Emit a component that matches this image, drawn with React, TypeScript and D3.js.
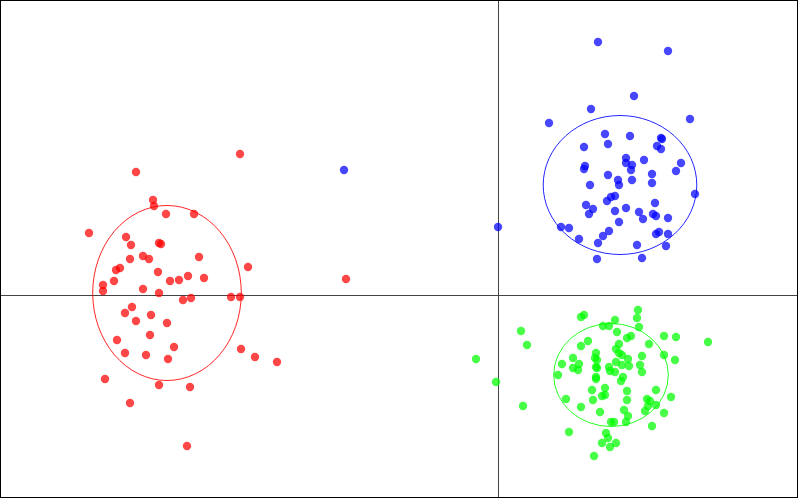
import React from "react";
import * as d3 from "d3";

const W = 798;
const H = 498;

type P = [number, number];

const groupNames = ["A", "B", "C"];
const groupColors = ["#ff0000", "#0000ff", "#00ff00"];

const redPoints: P[] = [
  [-2.58, 1.41], [-3.62, 1.23], [-3.45, 0.95], [-3.44, 0.89], [-3.32, 0.81], [-3.04, 0.81],
  [-4.09, 0.62], [-3.72, 0.58], [-3.67, 0.5], [-3.39, 0.52], [-3.37, 0.51], [-2.99, 0.38],
  [-3.68, 0.36], [-3.55, 0.39], [-3.49, 0.36], [-2.5, 0.28], [-3.82, 0.25], [-3.78, 0.27],
  [-3.4, 0.23], [-3.28, 0.14], [-3.19, 0.15], [-3.1, 0.19], [-2.94, 0.17], [-3.84, 0.14],
  [-3.95, 0.1], [-3.95, 0.04], [-3.55, 0.06], [-3.39, 0.02], [-3.15, -0.05], [-3.07, -0.03],
  [-2.67, -0.02], [-2.58, -0.02], [-3.66, -0.12], [-3.73, -0.18], [-3.47, -0.2], [-3.62, -0.26],
  [-3.31, -0.28], [-3.81, -0.45], [-3.48, -0.4], [-3.24, -0.52], [-3.73, -0.58], [-3.52, -0.6],
  [-3.3, -0.64], [-2.57, -0.54], [-2.43, -0.62], [-2.21, -0.67], [-3.93, -0.84], [-3.39, -0.9],
  [-3.08, -0.92], [-3.68, -1.08], [-3.11, -1.51], [-1.52, 0.16],
];

const bluePoints: P[] = [
  [1.0, 2.53], [1.7, 2.44], [1.36, 1.99], [0.93, 1.86], [0.51, 1.72], [1.92, 1.76],
  [1.07, 1.61], [1.32, 1.59], [1.63, 1.57], [1.64, 1.56], [1.1, 1.51], [0.86, 1.48],
  [1.59, 1.49], [1.63, 1.46], [1.28, 1.37], [1.28, 1.32], [1.34, 1.3], [1.33, 1.25],
  [1.46, 1.35], [1.83, 1.32], [1.78, 1.24], [0.87, 1.29], [0.86, 1.26], [1.1, 1.2],
  [1.2, 1.15], [1.21, 1.1], [1.34, 1.15], [1.54, 1.21], [1.54, 1.12], [0.92, 1.1],
  [1.97, 1.01], [1.17, 0.99], [1.13, 0.98], [1.09, 0.94], [0.88, 0.9], [0.95, 0.86],
  [0.91, 0.81], [1.17, 0.84], [1.28, 0.87], [1.41, 0.83], [1.57, 0.92], [1.45, 0.76],
  [1.55, 0.81], [1.58, 0.79], [1.7, 0.77], [1.21, 0.73], [0.63, 0.68], [0.71, 0.67],
  [1.11, 0.64], [1.05, 0.59], [0.81, 0.56], [1.58, 0.61], [1.61, 0.63], [1.7, 0.61],
  [1.0, 0.52], [1.39, 0.5], [1.68, 0.49], [0.99, 0.36], [1.44, 0.37], [-1.54, 1.25],
  [0.0, 0.68],
];

const greenPoints: P[] = [
  [1.4, -0.15], [1.39, -0.23], [0.83, -0.22], [0.86, -0.2], [1.17, -0.25], [1.05, -0.31],
  [1.11, -0.31], [1.41, -0.32], [0.23, -0.36], [1.19, -0.37], [0.29, -0.5], [-0.22, -0.64],
  [1.66, -0.41], [1.78, -0.42], [2.1, -0.47], [0.9, -0.46], [0.83, -0.51], [1.29, -0.43],
  [1.33, -0.41], [1.51, -0.49], [1.21, -0.49], [1.18, -0.54], [0.98, -0.58], [1.21, -0.58],
  [1.24, -0.6], [1.66, -0.6], [0.75, -0.63], [1.44, -0.61], [0.97, -0.63], [0.99, -0.65],
  [0.64, -0.69], [0.81, -0.69], [1.3, -0.64], [1.18, -0.67], [1.24, -0.7], [1.77, -0.65],
  [0.75, -0.73], [0.8, -0.75], [0.98, -0.72], [0.99, -0.73], [1.11, -0.72], [1.12, -0.76],
  [1.17, -0.77], [1.31, -0.71], [1.42, -0.7], [1.44, -0.77], [0.6, -0.8], [0.98, -0.82],
  [1.25, -0.82], [-0.02, -0.87], [0.98, -0.84], [1.23, -0.86], [1.07, -0.93], [0.94, -0.95],
  [1.29, -0.96], [1.58, -0.95], [1.04, -1.01], [1.07, -1.0], [0.68, -1.04], [0.95, -1.05],
  [1.29, -1.05], [1.49, -1.04], [1.52, -1.06], [1.73, -1.02], [1.58, -1.1], [1.5, -1.11],
  [0.25, -1.11], [0.83, -1.12], [1.02, -1.17], [1.26, -1.15], [1.47, -1.16], [1.66, -1.18],
  [1.3, -1.21], [1.13, -1.27], [1.16, -1.27], [1.28, -1.27], [1.54, -1.31], [0.71, -1.37],
  [1.08, -1.38], [1.1, -1.43], [1.04, -1.48], [1.18, -1.48], [1.12, -1.52], [0.96, -1.61],
];

// ellipse: [cx, cy, rx, ry] in data units
const ellipses: [number, number, number, number][] = [
  [-3.31, 0.02, 0.743, 0.875],
  [1.22, 1.1, 0.768, 0.695],
  [1.13, -0.8, 0.573, 0.515],
];

const groups = [redPoints, bluePoints, greenPoints];

const xDomain: [number, number] = [-4.98, 3.0];
const yDomain: [number, number] = [2.95, -2.03];

export default function App() {
  const x = d3.scaleLinear().domain(xDomain).range([0, W]);
  const y = d3.scaleLinear().domain(yDomain).range([0, H]);
  const x0 = Math.round(x(0)) + 0.5;
  const y0 = Math.round(y(0)) + 0.5;

  return (
    <svg
      width={W}
      height={H}
      style={{ position: "absolute", left: 0, top: 0, background: "#fff" }}
    >
      <line x1={x0} x2={x0} y1={0} y2={H} stroke="#444" strokeWidth={1} />
      <line x1={0} x2={W} y1={y0} y2={y0} stroke="#444" strokeWidth={1} />
      {ellipses.map((e, i) => (
        <ellipse
          key={"e" + groupNames[i]}
          cx={x(e[0])}
          cy={y(e[1])}
          rx={x(e[0] + e[2]) - x(e[0])}
          ry={y(e[1] - e[3]) - y(e[1])}
          fill="none"
          stroke={groupColors[i]}
          strokeWidth={1}
          strokeOpacity={0.85}
        />
      ))}
      {groups.map((pts, gi) => (
        <g key={groupNames[gi]} fill={groupColors[gi]} fillOpacity={0.72}>
          {pts.map((p, i) => (
            <circle key={i} cx={x(p[0])} cy={y(p[1])} r={4.2} />
          ))}
        </g>
      ))}
      <rect x={0.5} y={0.5} width={W - 1} height={H - 1} fill="none" stroke="#000" strokeWidth={1} />
    </svg>
  );
}
